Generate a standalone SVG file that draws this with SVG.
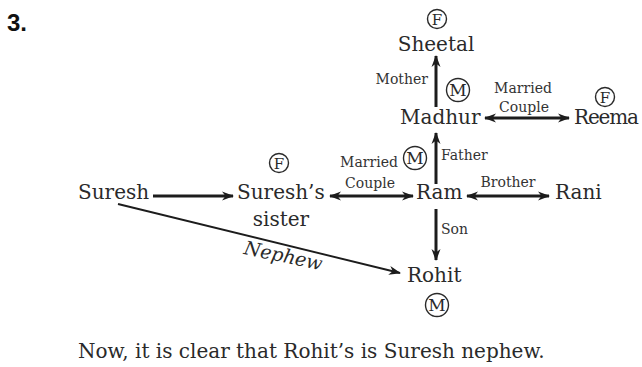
<svg xmlns="http://www.w3.org/2000/svg" width="642" height="367" viewBox="0 0 642 367">
<style>
  .name { font-family: "DejaVu Serif", "Liberation Serif", serif; font-size: 20px; fill: #2a2a2a; }
  .lbl { font-family: "DejaVu Serif", "Liberation Serif", serif; font-size: 14px; fill: #333; }
  .sex { font-family: "DejaVu Serif", "Liberation Serif", serif; font-size: 17px; fill: #2a2a2a; text-anchor: middle; }
  .sexf { font-size: 15px; }
  .ring { fill: none; stroke: #2a2a2a; stroke-width: 1.4; }
  .edge { stroke: #1c1c1c; stroke-width: 3; fill: none; }
  .thin { stroke: #1c1c1c; stroke-width: 1.9; fill: none; }
  .mid { text-anchor: middle; }
</style>
<defs>
  <marker id="ah" markerUnits="userSpaceOnUse" markerWidth="13" markerHeight="10" refX="11" refY="5" orient="auto-start-reverse" viewBox="0 0 13 10">
    <path d="M0,0.5 L12,5 L0,9.5 L3.5,5 z" fill="#1c1c1c"/>
  </marker>
</defs>
<rect width="642" height="367" fill="#ffffff"/>
<text x="7" y="31" font-family="Liberation Sans, Arial, sans-serif" font-weight="bold" font-size="24" fill="#111">3.</text>

<g id="connectors">
  <line class="edge" x1="436" y1="107" x2="436" y2="56" marker-end="url(#ah)"/>
  <line class="edge" x1="485" y1="118" x2="569" y2="118" marker-start="url(#ah)" marker-end="url(#ah)"/>
  <line class="edge" x1="436" y1="184" x2="436" y2="133" marker-end="url(#ah)"/>
  <line class="edge" x1="153" y1="196" x2="233" y2="196" marker-end="url(#ah)"/>
  <line class="edge" x1="330" y1="196" x2="413" y2="196" marker-start="url(#ah)" marker-end="url(#ah)"/>
  <line class="edge" x1="467" y1="196" x2="549" y2="196" marker-start="url(#ah)" marker-end="url(#ah)"/>
  <line class="edge" x1="436" y1="209" x2="436" y2="260" marker-end="url(#ah)"/>
  <line class="thin" x1="118" y1="204" x2="400" y2="273" marker-end="url(#ah)"/>
  <text class="lbl" x="428" y="84" text-anchor="end">Mother</text>
  <text class="lbl mid" x="523" y="93">Married</text>
  <text class="lbl mid" x="524" y="112">Couple</text>
  <text class="lbl" x="441" y="160">Father</text>
  <text class="lbl mid" x="369" y="167">Married</text>
  <text class="lbl mid" x="370" y="188">Couple</text>
  <text class="lbl mid" x="508" y="187">Brother</text>
  <text class="lbl" x="441" y="234">Son</text>
  <text font-family="DejaVu Serif, Liberation Serif, serif" font-style="italic" font-size="19" fill="#2a2a2a" text-anchor="middle" transform="translate(282,262) rotate(12)">Nephew</text>
</g>

<g id="node-sheetal">
  <circle class="ring" cx="437" cy="19" r="9.5"/>
  <text class="sex sexf" x="437" y="24.5">F</text>
  <text class="name mid" x="436" y="51">Sheetal</text>
</g>
<g id="node-madhur">
  <circle class="ring" cx="458" cy="90" r="11.5"/>
  <text class="sex" x="458" y="96">M</text>
  <text class="name" x="400" y="124">Madhur</text>
</g>
<g id="node-reema">
  <circle class="ring" cx="605" cy="97" r="9.5"/>
  <text class="sex sexf" x="605" y="102.5">F</text>
  <text class="name" x="574" y="124" textLength="65">Reema</text>
</g>
<g id="node-ram">
  <circle class="ring" cx="415" cy="158" r="11.5"/>
  <text class="sex" x="415" y="164">M</text>
  <text class="name" x="416" y="199">Ram</text>
</g>
<g id="node-suresh">
  <text class="name" x="78" y="199">Suresh</text>
</g>
<g id="node-sureshs-sister">
  <circle class="ring" cx="279" cy="163" r="9.5"/>
  <text class="sex sexf" x="279" y="168.5">F</text>
  <text class="name" x="237" y="199">Suresh’s</text>
  <text class="name mid" x="281" y="226">sister</text>
</g>
<g id="node-rani">
  <text class="name" x="555" y="199">Rani</text>
</g>
<g id="node-rohit">
  <text class="name" x="407" y="282">Rohit</text>
  <circle class="ring" cx="437" cy="305" r="11.5"/>
  <text class="sex" x="437" y="311">M</text>
</g>

<text class="name" x="78" y="358" font-size="23">Now, it is clear that Rohit’s is Suresh nephew.</text>
</svg>
